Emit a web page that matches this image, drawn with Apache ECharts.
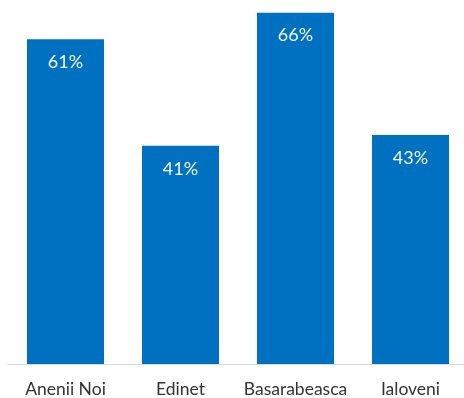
<!DOCTYPE html>
<html><head><meta charset="utf-8">
<script src="https://cdn.jsdelivr.net/npm/echarts@6/dist/echarts.min.js"></script>
<style>html,body{margin:0;padding:0;background:#fff;overflow:hidden}#c{width:472px;height:398px}</style>
</head><body><div id="c"></div>
<script>
const categories = ["Anenii Noi", "Edinet", "Basarabeasca", "Ialoveni"];
const values = [61, 41, 66, 43];

const chart = echarts.init(document.getElementById('c'));
chart.setOption({
  animation: false,
  grid: { left: 8, right: 4, top: 2, height: 364, containLabel: false },
  xAxis: {
    type: 'category',
    data: categories,
    axisLine: { lineStyle: { color: '#d9d9d9', width: 1 } },
    axisTick: { show: false },
    axisLabel: { interval: 0, color: '#333', fontFamily: 'Lato', fontSize: 17.5, margin: 16 }
  },
  yAxis: {
    type: 'value', min: 0, max: 68,
    show: false, splitLine: { show: false }
  },
  series: [{
    type: 'bar',
    data: values,
    barWidth: 77,
    itemStyle: { color: '#0070C0' },
    label: {
      show: true, position: 'insideTop', distance: 14,
      formatter: p => p.value + '%',
      color: '#f4f8fc', fontFamily: 'Lato', fontSize: 18
    }
  }]
});
</script></body></html>
